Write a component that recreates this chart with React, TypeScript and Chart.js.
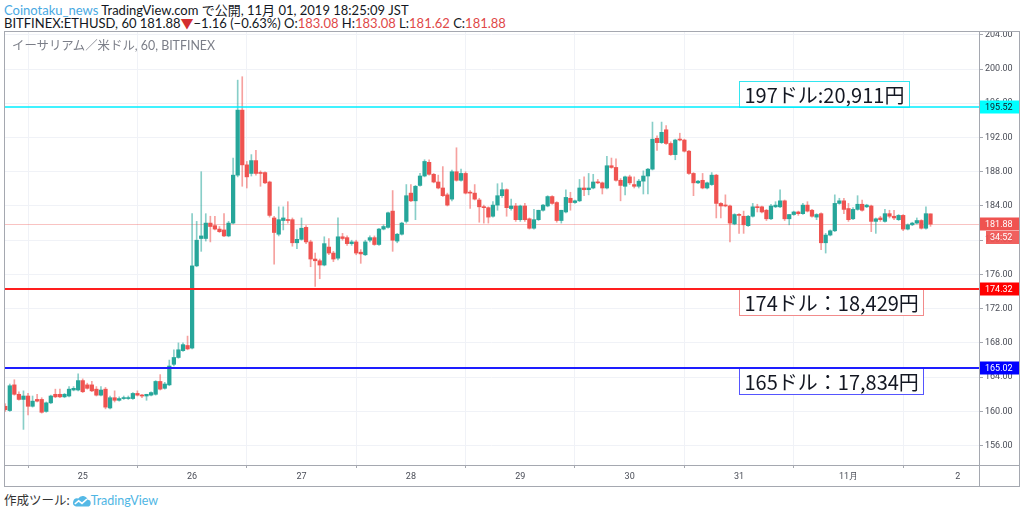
import React, { useEffect, useRef } from "react";
import { Chart, registerables } from "chart.js";

Chart.register(...registerables);

// ---------------- data ----------------
// 60-minute candles, first bar = 24 Oct 07:00 (hours counted from 25 Oct 00:00)
const firstHour = -17;
const dayLabels = ["25", "26", "27", "28", "29", "30", "31", "11月", "2"];
const priceTicks = [156, 160, 164, 168, 172, 176, 180, 184, 188, 192, 196, 200, 204];

const opens = [
  160.6, 160.1, 163.1, 162.0, 161.4, 161.8, 160.6, 161.4, 161.4, 160.0, 161.0, 162.0, 162.0, 161.7, 161.8, 162.5, 162.5,
  163.6, 163.1, 163.1, 162.6, 161.9, 162.6, 160.4, 161.6, 161.3, 161.5, 161.5, 161.5, 162.1, 161.9, 161.8, 161.9, 162.0, 163.5, 162.7, 163.1, 165.5, 166.3, 167.1, 167.7,
  167.4, 177.0, 180.2, 180.2, 182.0, 181.7, 181.3, 181.2, 180.5, 182.0, 187.6, 195.2, 188.8, 187.8, 189.3, 187.9, 187.9, 186.8, 182.6, 180.7, 182.3, 182.4, 182.4, 179.7,
  180.1, 181.5, 179.8, 177.8, 177.6, 177.1, 179.2, 178.5, 177.9, 180.4, 180.3, 179.6, 179.8, 178.6, 178.3, 180.0, 180.3, 179.5, 181.3, 181.5, 183.4, 179.9, 180.7, 182.2,
  185.5, 184.6, 186.4, 187.5, 189.1, 187.7, 186.8, 186.1, 185.3, 184.8, 188.0, 187.0, 187.8, 185.6, 185.5, 184.7, 183.9, 183.8, 182.8, 184.1, 185.2, 185.9, 183.7, 184.0,
  182.4, 184.0, 182.5, 181.4, 182.4, 183.5, 184.0, 185.1, 184.4, 182.3, 183.3, 184.9, 184.4, 184.6, 186.1, 185.9, 186.1, 186.8, 186.7, 186.1, 188.7, 188.5, 187.0, 186.3,
  187.4, 186.5, 186.3, 186.9, 187.5, 188.3, 191.9, 191.4, 192.9, 191.3, 190.0, 191.8, 191.7, 190.4, 187.8, 186.7, 187.0, 186.1, 186.5, 187.6, 184.3, 184.1, 184.0, 181.9,
  183.0, 182.8, 181.7, 182.8, 183.9, 183.9, 183.5, 182.5, 183.9, 183.9, 184.6, 182.5, 183.0, 183.3, 183.1, 184.1, 183.5, 182.7, 183.1, 179.7, 180.6, 181.1, 184.3, 184.6,
  183.7, 182.5, 183.6, 184.2, 183.9, 184.0, 182.2, 182.6, 182.2, 183.1, 182.8, 182.4, 182.9, 181.3, 181.8, 182.0, 182.3, 181.4, 183.08,
];
const highs = [
  160.9, 163.2, 163.7, 162.3, 162.4, 162.1, 161.8, 162.0, 161.6, 161.1, 161.9, 162.6, 162.6, 162.1, 162.9, 162.9, 164.4,
  163.8, 163.3, 163.5, 162.9, 162.9, 162.8, 161.8, 162.4, 161.7, 161.8, 161.8, 162.2, 162.4, 162.0, 162.0, 162.3, 163.6, 164.3, 163.4, 166.0, 167.2, 168.0, 168.0, 168.8,
  183.1, 182.2, 188.0, 183.1, 182.8, 182.8, 181.6, 183.1, 182.2, 189.6, 198.7, 199.1, 189.2, 190.0, 190.5, 188.1, 188.0, 186.9, 182.8, 183.9, 183.9, 184.5, 182.6, 181.2,
  182.6, 181.7, 180.0, 178.5, 177.8, 180.4, 180.2, 178.7, 182.6, 180.8, 180.5, 180.0, 180.0, 178.9, 180.0, 180.5, 180.5, 181.4, 181.8, 183.3, 185.8, 180.8, 182.1, 186.5,
  186.5, 186.4, 187.8, 189.4, 189.4, 187.8, 187.6, 188.6, 185.5, 188.2, 190.8, 188.3, 188.0, 185.8, 186.5, 184.9, 184.1, 183.9, 184.5, 186.6, 186.7, 186.0, 184.8, 184.3,
  184.1, 184.3, 182.6, 183.6, 183.5, 184.2, 185.2, 185.2, 184.5, 183.5, 185.9, 185.6, 184.7, 187.1, 187.4, 187.8, 187.7, 187.1, 186.8, 189.8, 189.6, 189.5, 187.2, 187.5,
  187.6, 187.4, 187.1, 188.1, 188.4, 193.8, 192.2, 193.8, 193.4, 191.5, 191.8, 192.5, 191.8, 190.5, 187.9, 187.0, 187.8, 186.8, 187.9, 187.7, 184.4, 185.3, 184.1, 183.1,
  183.1, 183.4, 182.9, 184.3, 184.2, 184.0, 183.6, 184.2, 184.5, 185.9, 184.7, 183.0, 183.4, 183.4, 184.3, 184.5, 183.6, 183.1, 183.2, 180.8, 181.2, 185.3, 184.9, 184.9,
  184.3, 183.8, 185.2, 184.7, 184.2, 184.1, 182.6, 182.8, 183.6, 183.5, 183.5, 183.0, 183.0, 181.9, 182.1, 182.6, 182.4, 183.9, 183.08,
];
const lows = [
  160.0, 160.0, 161.9, 161.3, 157.9, 159.6, 160.5, 161.1, 159.8, 159.9, 160.9, 161.6, 161.6, 161.6, 161.7, 162.4, 162.4,
  162.2, 162.6, 162.3, 161.8, 161.8, 160.3, 160.3, 161.1, 161.2, 161.4, 161.4, 161.4, 161.8, 161.6, 161.3, 161.8, 161.9, 162.5, 162.6, 163.0, 165.3, 166.2, 167.0, 167.2,
  167.3, 176.9, 178.7, 179.9, 179.8, 181.2, 180.9, 180.4, 180.4, 181.9, 187.4, 186.3, 186.1, 187.5, 187.6, 186.3, 186.6, 182.7, 177.2, 180.5, 181.2, 182.0, 179.3, 179.0,
  180.0, 179.6, 176.9, 174.6, 175.5, 177.0, 178.3, 177.5, 177.7, 180.0, 179.4, 179.4, 178.3, 177.3, 178.2, 179.8, 179.4, 179.4, 181.2, 181.4, 178.7, 179.7, 180.6, 182.0,
  184.5, 182.4, 186.3, 187.4, 187.6, 186.7, 186.0, 185.1, 184.0, 184.6, 186.9, 186.9, 185.4, 183.7, 184.7, 182.1, 182.0, 182.0, 182.7, 183.5, 185.0, 182.8, 183.5, 182.2,
  182.2, 182.2, 181.3, 181.3, 182.3, 183.4, 183.9, 184.2, 182.1, 182.0, 183.2, 183.5, 184.3, 184.5, 185.2, 185.3, 186.0, 186.6, 185.4, 186.0, 188.4, 186.9, 184.6, 185.3,
  186.5, 186.1, 186.1, 185.4, 185.4, 188.2, 190.5, 191.3, 191.2, 189.9, 189.4, 191.6, 190.3, 187.7, 185.2, 186.6, 186.0, 186.0, 186.4, 182.6, 182.6, 183.9, 179.8, 181.8,
  180.8, 180.8, 181.6, 182.7, 183.3, 183.2, 182.3, 182.4, 183.8, 183.8, 182.3, 181.8, 182.9, 182.9, 183.0, 183.3, 182.7, 182.4, 178.9, 178.5, 180.5, 181.0, 184.2, 183.1,
  182.2, 182.4, 183.5, 183.4, 183.8, 181.0, 180.8, 182.2, 182.1, 182.6, 182.4, 182.3, 181.1, 181.2, 181.7, 181.9, 181.3, 181.3, 181.62,
];
const closes = [
  160.2, 163.0, 162.0, 161.4, 161.8, 160.6, 161.2, 161.2, 159.9, 161.0, 161.8, 161.7, 161.7, 162.0, 162.6, 162.7, 163.6,
  162.3, 162.7, 162.4, 161.9, 162.5, 160.5, 161.6, 161.3, 161.5, 161.6, 161.6, 162.1, 161.9, 161.8, 162.0, 162.2, 163.5, 162.6, 163.2, 165.3, 166.3, 167.2, 167.8, 167.3,
  177.0, 180.0, 180.5, 182.0, 181.6, 181.3, 181.0, 180.5, 182.0, 187.6, 195.2, 188.8, 187.4, 189.3, 187.8, 187.8, 186.7, 182.9, 180.9, 182.4, 182.6, 182.3, 179.7, 180.1,
  181.4, 179.8, 177.8, 177.6, 177.1, 179.6, 178.5, 177.8, 180.4, 180.2, 179.6, 179.8, 178.5, 178.4, 179.8, 180.3, 179.5, 181.3, 181.6, 183.2, 180.0, 180.7, 182.0, 185.2,
  184.6, 186.3, 187.5, 189.2, 187.7, 186.8, 186.1, 185.2, 184.1, 188.0, 187.0, 187.8, 185.5, 185.5, 184.8, 183.9, 183.8, 182.7, 184.1, 185.2, 185.9, 183.8, 184.0, 182.4,
  184.0, 182.4, 181.4, 182.4, 183.5, 184.1, 185.1, 184.3, 182.3, 183.5, 185.0, 184.4, 184.6, 186.1, 185.9, 186.1, 186.8, 186.7, 186.1, 188.7, 188.5, 187.0, 186.4, 187.4,
  186.7, 186.3, 186.9, 187.5, 188.3, 191.8, 191.4, 192.6, 191.3, 190.0, 191.7, 191.7, 190.4, 187.8, 186.7, 186.9, 186.1, 186.7, 187.6, 184.3, 184.0, 184.0, 182.0, 183.0,
  182.9, 181.8, 182.8, 183.9, 183.8, 183.3, 182.5, 184.0, 184.1, 184.6, 182.5, 183.0, 183.3, 183.1, 184.1, 183.4, 182.8, 183.0, 179.7, 180.6, 181.1, 184.3, 184.6, 183.6,
  182.4, 183.6, 184.2, 183.5, 184.1, 182.2, 182.5, 182.4, 183.1, 182.8, 182.6, 182.9, 181.3, 181.8, 182.0, 182.3, 181.4, 183.1, 181.88,
];

const levelPrices = [195.52, 174.32, 165.02];
const levelNotes = ["197ドル:20,911円", "174ドル：18,429円", "165ドル：17,834円"];
const countdownText = "34:52";
const legendTitle = "イーサリアム／米ドル, 60, BITFINEX";

// ---------------- styles ----------------
const GREEN = "#26a69a";
const RED = "#ef5350";
const WICK_GREEN = "rgba(38,166,154,0.55)";
const WICK_RED = "rgba(239,83,80,0.55)";
const FRAME = "#a5a8b0";
const GRID = "#f0f2f7";
const AXIS_TEXT = "#4a4d57";
const AXIS_FONT_FAMILY = "Roboto, 'Liberation Sans', sans-serif";
const NOTE_FONT = "20px 'Noto Sans CJK JP', sans-serif";
const NOTE_PAD = 5;
const NOTE_H = 26;
const noteAnchorHour = 144; // left edge of the note boxes (31 Oct 00:00)
const levelStyles = [
  { line: "#00eeff", width: 1.5, border: "#33e6f0", above: true, tagBg: "#00ffff", tagText: "#131722" },
  { line: "#ff1e1e", width: 2, border: "#f28b8b", above: false, tagBg: "#ff0000", tagText: "#ffffff" },
  { line: "#1e1eff", width: 2, border: "#5555ff", above: false, tagBg: "#0000ff", tagText: "#ffffff" },
];

const lastClose = closes[closes.length - 1];

const overlayPlugin = {
  id: "tvOverlay",
  beforeDatasetsDraw(chart: any) {
    const { ctx, chartArea, scales } = chart;
    const py = Math.round(scales.y.getPixelForValue(lastClose)) + 0.5;
    ctx.save();
    ctx.strokeStyle = "rgba(239,83,80,0.35)";
    ctx.lineWidth = 1;
    ctx.beginPath();
    ctx.moveTo(chartArea.left, py);
    ctx.lineTo(chartArea.right, py);
    ctx.stroke();
    ctx.restore();
  },
  afterDatasetsDraw(chart: any) {
    const { ctx, chartArea, scales } = chart;
    ctx.save();
    ctx.beginPath();
    ctx.rect(chartArea.left, chartArea.top, chartArea.right - chartArea.left, chartArea.bottom - chartArea.top);
    ctx.clip();
    // note boxes
    ctx.font = NOTE_FONT;
    levelPrices.forEach((p, k) => {
      const st = levelStyles[k];
      const ly = Math.round(scales.y.getPixelForValue(p));
      const x0 = Math.round(scales.x.getPixelForValue(noteAnchorHour)) + 0.5;
      const w = Math.round(ctx.measureText(levelNotes[k]).width + 2 * NOTE_PAD);
      const top = st.above ? ly - NOTE_H + 0.5 : ly + 0.5;
      ctx.fillStyle = "#ffffff";
      ctx.fillRect(x0, top, w, NOTE_H);
      ctx.strokeStyle = st.border;
      ctx.lineWidth = 1;
      ctx.strokeRect(x0, top, w, NOTE_H);
      ctx.fillStyle = "#131722";
      ctx.textAlign = "left";
      ctx.textBaseline = "middle";
      ctx.fillText(levelNotes[k], x0 + NOTE_PAD, top + NOTE_H / 2 + 1);
    });
    // level lines
    levelPrices.forEach((p, k) => {
      const st = levelStyles[k];
      const ly = Math.round(scales.y.getPixelForValue(p));
      ctx.strokeStyle = st.line;
      ctx.lineWidth = st.width;
      ctx.beginPath();
      ctx.moveTo(chartArea.left, ly);
      ctx.lineTo(chartArea.right, ly);
      ctx.stroke();
    });
    ctx.restore();
  },
  afterDraw(chart: any) {
    const { ctx, chartArea, scales, width, height } = chart;
    const labelX = chartArea.right + 6;
    ctx.save();
    const tag = (value: number, bg: string, fg: string, text: string) => {
      const cy = Math.round(scales.y.getPixelForValue(value));
      ctx.fillStyle = bg;
      ctx.fillRect(chartArea.right, cy - 6.5, width - chartArea.right - 1, 13);
      ctx.fillStyle = fg;
      ctx.font = "9px " + AXIS_FONT_FAMILY;
      ctx.textAlign = "left";
      ctx.textBaseline = "middle";
      ctx.fillText(text, labelX, cy + 0.5);
    };
    levelPrices.forEach((p, k) => tag(p, levelStyles[k].tagBg, levelStyles[k].tagText, p.toFixed(2)));
    tag(lastClose, RED, "#ffffff", lastClose.toFixed(2));
    // countdown tag
    const cy = Math.round(scales.y.getPixelForValue(lastClose));
    ctx.fillStyle = "rgba(239,83,80,0.92)";
    ctx.fillRect(chartArea.right + 7, cy + 7, width - chartArea.right - 8, 13);
    ctx.fillStyle = "#ffffff";
    ctx.fillText(countdownText, chartArea.right + 11, cy + 14);
    // frame
    ctx.strokeStyle = FRAME;
    ctx.lineWidth = 1;
    ctx.strokeRect(0.5, 0.5, width - 1, height - 1);
    ctx.beginPath();
    ctx.moveTo(chartArea.right + 0.5, 0);
    ctx.lineTo(chartArea.right + 0.5, height);
    ctx.moveTo(0, chartArea.bottom + 0.5);
    ctx.lineTo(width, chartArea.bottom + 0.5);
    ctx.stroke();
    ctx.restore();
  },
};

export default function App() {
  const canvasRef = useRef<HTMLCanvasElement | null>(null);

  useEffect(() => {
    if (!canvasRef.current) return;
    const xs = opens.map((_, i) => firstHour + i);
    const up = opens.map((o, i) => closes[i] >= o);
    const chart = new Chart(canvasRef.current, {
      type: "bar",
      data: {
        datasets: [
          {
            label: "body",
            data: opens.map((o, i) => ({ x: xs[i], y: [o, closes[i]] })) as any,
            backgroundColor: up.map((u) => (u ? GREEN : RED)),
            barThickness: 3.6,
            minBarLength: 1,
            grouped: false,
            borderWidth: 0,
            order: 0,
          } as any,
          {
            label: "wick",
            data: lows.map((l, i) => ({ x: xs[i], y: [l, highs[i]] })) as any,
            backgroundColor: up.map((u) => (u ? WICK_GREEN : WICK_RED)),
            barThickness: 1,
            grouped: false,
            borderWidth: 0,
            order: 1,
          } as any,
        ],
      },
      options: {
        animation: false,
        responsive: false,
        maintainAspectRatio: false,
        layout: { padding: 0 },
        plugins: { legend: { display: false }, tooltip: { enabled: false } },
        scales: {
          x: {
            type: "linear",
            min: -17.27,
            max: 196.64,
            offset: false,
            afterBuildTicks: (scale: any) => {
              scale.ticks = dayLabels.map((_, i) => ({ value: i * 24 }));
            },
            afterFit: (scale: any) => {
              scale.height = 22;
              scale.paddingLeft = 0;
              scale.paddingRight = 0;
            },
            ticks: {
              autoSkip: false,
              maxRotation: 0,
              padding: 3,
              color: AXIS_TEXT,
              font: { family: AXIS_FONT_FAMILY, size: 9 },
              callback: (v: any) => dayLabels[Math.round(Number(v) / 24)],
            },
            grid: { color: GRID, tickColor: FRAME, tickLength: 3, drawTicks: true },
            border: { display: false },
          },
          y: {
            type: "linear",
            position: "right",
            min: 153.74,
            max: 204.44,
            afterBuildTicks: (scale: any) => {
              scale.ticks = priceTicks.map((v) => ({ value: v }));
            },
            afterFit: (scale: any) => {
              scale.width = 41;
              scale.paddingTop = 0;
              scale.paddingBottom = 0;
            },
            ticks: {
              autoSkip: false,
              padding: 2,
              color: AXIS_TEXT,
              font: { family: AXIS_FONT_FAMILY, size: 9 },
              callback: (v: any) => Number(v).toFixed(2),
            },
            grid: { color: GRID, tickColor: FRAME, tickLength: 4, drawTicks: true },
            border: { display: false },
          },
        },
      } as any,
      plugins: [overlayPlugin],
    });
    return () => chart.destroy();
  }, []);

  const head: React.CSSProperties = {
    position: "absolute",
    left: 4,
    whiteSpace: "nowrap",
    font: "13px Lato, 'Noto Sans CJK JP', sans-serif",
    lineHeight: "13px",
    color: "#131722",
  };
  const val = { color: "#e04848" };

  return (
    <div style={{ position: "fixed", left: 0, top: 0, width: 1024, height: 514, background: "#ffffff", overflow: "hidden" }}>
      <div style={{ ...head, top: 4 }}>
        <span style={{ color: "#4aa9e2" }}>Coinotaku_news</span> TradingView.com で公開, 11月 01, 2019 18:25:09 JST
      </div>
      <div style={{ ...head, top: 17 }}>
        BITFINEX:ETHUSD, 60 181.88<span style={{ color: "#d32f2f" }}>▼</span>−1.16 (−0.63%) O:<span style={val}>183.08</span> H:
        <span style={val}>183.08</span> L:<span style={val}>181.62</span> C:<span style={val}>181.88</span>
      </div>
      <canvas ref={canvasRef} width={1016} height={456} style={{ position: "absolute", left: 4, top: 31 }} />
      <div
        style={{
          position: "absolute",
          left: 12,
          top: 39,
          whiteSpace: "nowrap",
          font: "12.4px Lato, 'Noto Sans CJK JP', sans-serif",
          lineHeight: "14px",
          color: "#7b7e88",
        }}
      >
        {legendTitle}
      </div>
      <div
        style={{
          position: "absolute",
          left: 4,
          top: 494,
          whiteSpace: "nowrap",
          font: "12.5px Lato, 'Noto Sans CJK JP', sans-serif",
          lineHeight: "14px",
          color: "#333",
          display: "flex",
          alignItems: "center",
        }}
      >
        <span>作成ツール:</span>
        <svg width="19" height="12" viewBox="0 0 19 12" style={{ marginLeft: 2, marginRight: 0 }}>
          <path d="M4 11.5 H15 A3.4 3.4 0 0 0 15.6 4.7 A5 5 0 0 0 6.3 3.6 A4 4 0 0 0 4 11.5 Z" fill="#55b9e6" />
          <path d="M2.8 9 L6.6 5.8 L10 8.4 L15 4" stroke="#ffffff" strokeWidth="1.6" fill="none" />
        </svg>
        <span style={{ color: "#4fb6e4" }}>TradingView</span>
      </div>
    </div>
  );
}
